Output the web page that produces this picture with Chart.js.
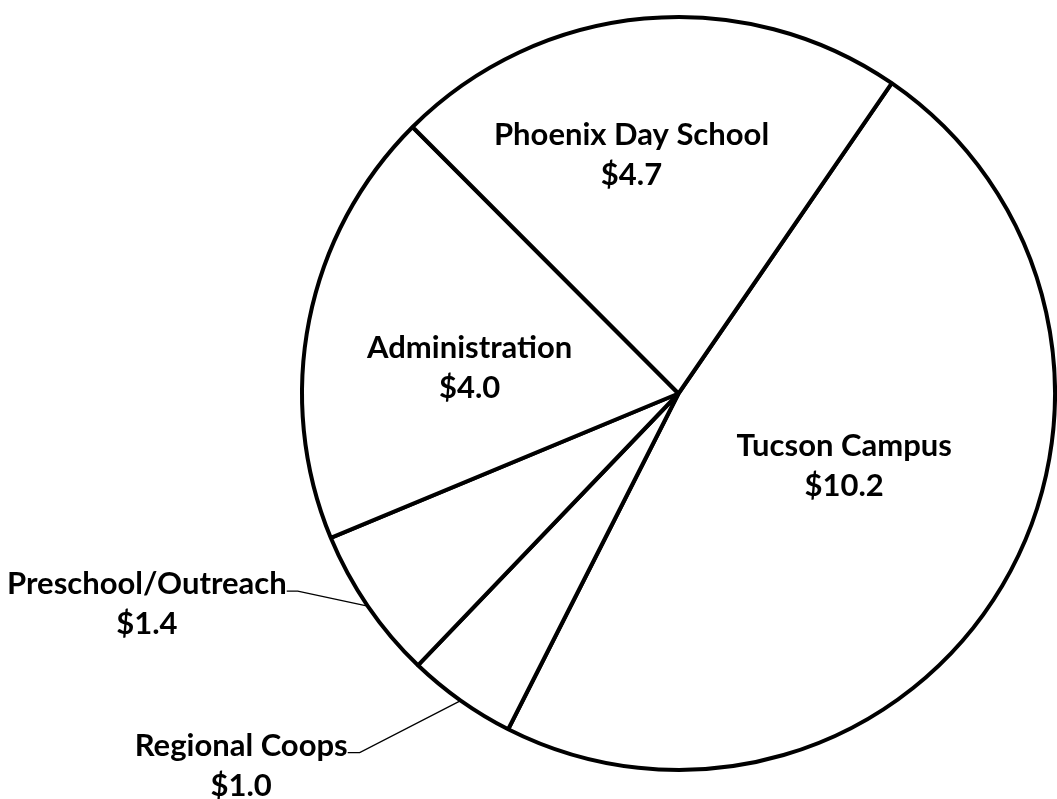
<!DOCTYPE html>
<html>
<head>
<meta charset="utf-8">
<script src="https://cdn.jsdelivr.net/npm/chart.js@4"></script>
<style>
    html, body { margin: 0; padding: 0; background: #fff; }
    #wrap { width: 1057px; height: 799px; position: relative; }
</style>
</head>
<body>
<div id="wrap"><canvas id="pieChart"></canvas></div>
<script>
// Budget by program ($ millions), clockwise from the top-right boundary
const programs = ['Tucson Campus', 'Regional Coops', 'Preschool/Outreach', 'Administration', 'Phoenix Day School'];
const amounts = [10.2, 1.0, 1.4, 4.0, 4.7];

// Label placement per slice: inside (radial fraction + angle shift in degrees)
// or outside with a leader line (elbow offset from the rim point)
const labelPlacement = [
    { inside: true, r: 0.479, shift: -7.4 },
    { inside: false, elbowX: -101, elbowY: 52, tick: 12 },
    { inside: false, elbowX: -70, elbowY: -15, tick: 11 },
    { inside: true, r: 0.559, shift: -4.1 },
    { inside: true, r: 0.647, shift: -5.9 }
];

const labelFont = 'bold 31px Lato, "Open Sans", sans-serif';
const lineGap = 40;
const capHalf = 11; // half cap height, to centre text on a line

// Draw the slice labels (and leader lines for the small slices)
const sliceLabels = {
    id: 'sliceLabels',
    afterDraw(chart) {
        const ctx = chart.ctx;
        const arcs = chart.getDatasetMeta(0).data;
        ctx.save();
        ctx.font = labelFont;
        ctx.fillStyle = '#000';
        ctx.textBaseline = 'alphabetic';
        ctx.textAlign = 'center';

        arcs.forEach((arc, i) => {
            const { x, y, startAngle, endAngle, outerRadius } = arc.getProps(['x', 'y', 'startAngle', 'endAngle', 'outerRadius'], true);
            const mid = (startAngle + endAngle) / 2;
            const place = labelPlacement[i];
            const name = programs[i];
            const value = '$' + amounts[i].toFixed(1);

            if (place.inside) {
                const a = mid + place.shift * Math.PI / 180;
                const cx = x + Math.cos(a) * outerRadius * place.r;
                const cy = y + Math.sin(a) * outerRadius * place.r;
                ctx.fillText(name, cx, cy - lineGap / 2 + capHalf);
                ctx.fillText(value, cx, cy + lineGap / 2 + capHalf);
            } else {
                const ex = x + Math.cos(mid) * outerRadius;
                const ey = y + Math.sin(mid) * outerRadius;
                const kx = ex + place.elbowX;
                const ky = ey + place.elbowY;
                ctx.strokeStyle = '#000';
                ctx.lineWidth = 1.3;
                ctx.beginPath();
                ctx.moveTo(ex, ey);
                ctx.lineTo(kx, ky);
                ctx.lineTo(kx - place.tick, ky);
                ctx.stroke();

                const textRight = kx - place.tick;
                const w = ctx.measureText(name).width;
                const cx = textRight - w / 2;
                const line1 = ky - 8 + capHalf;
                ctx.fillText(name, cx, line1);
                ctx.fillText(value, cx, line1 + lineGap);
            }
        });
        ctx.restore();
    }
};

new Chart(document.getElementById('pieChart'), {
    type: 'pie',
    data: {
        labels: programs,
        datasets: [{
            data: amounts,
            backgroundColor: '#ffffff',
            borderColor: '#000000',
            borderWidth: 4,
            hoverOffset: 0
        }]
    },
    options: {
        responsive: true,
        maintainAspectRatio: false,
        animation: false,
        rotation: 34.5,
        layout: {
            padding: { left: 300, right: -4, top: 12, bottom: 24 }
        },
        plugins: {
            legend: { display: false },
            tooltip: { enabled: false }
        }
    },
    plugins: [sliceLabels]
});
</script>
</body>
</html>
